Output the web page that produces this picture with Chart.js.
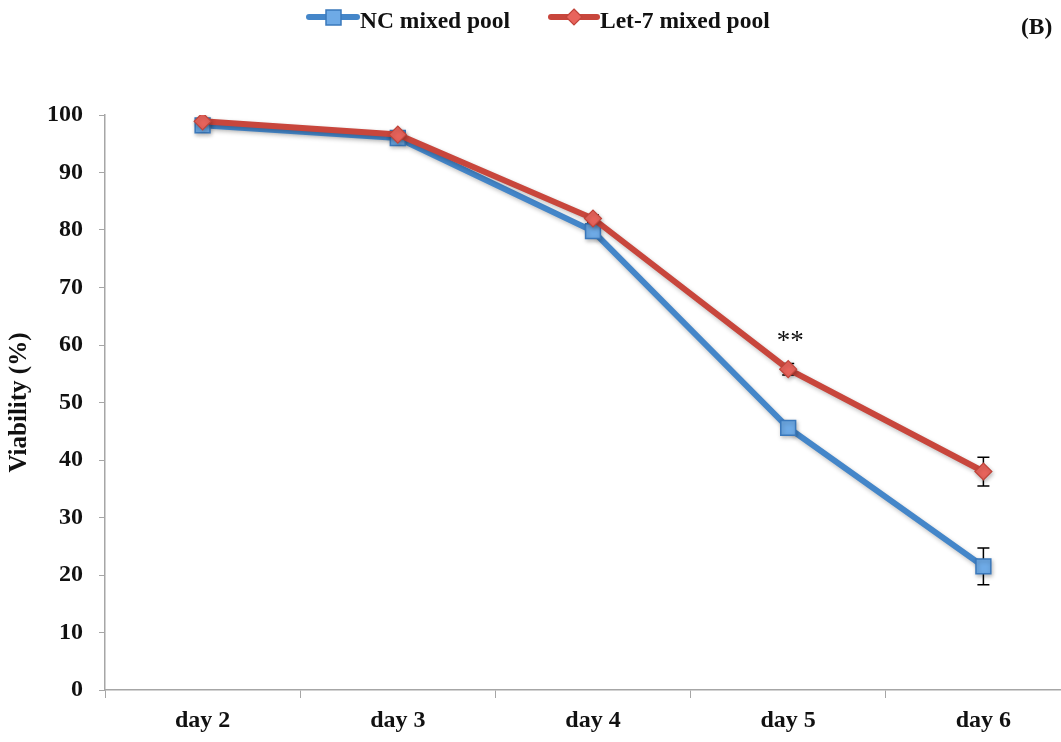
<!DOCTYPE html>
<html>
<head>
<meta charset="utf-8">
<script src="https://cdn.jsdelivr.net/npm/chart.js@4/dist/chart.umd.min.js"></script>
<style>
  html, body { margin: 0; padding: 0; background: #fff; overflow: hidden; }
  #wrap { position: relative; width: 1093px; height: 742px; }
</style>
</head>
<body>
<div id="wrap"><canvas id="chart"></canvas></div>
<script>
'use strict';

// ── Data ────────────────────────────────────────────────────────
const DAYS = ['day 2', 'day 3', 'day 4', 'day 5', 'day 6'];
const NC_VALUES = [98.2, 96.0, 79.8, 45.6, 21.5];
const NC_ERRORS = [0.5, 0.5, 0.8, 0.8, 3.2];
const LET7_VALUES = [98.9, 96.6, 82.0, 55.8, 38.0];
const LET7_ERRORS = [0.4, 0.4, 0.6, 1.0, 2.5];
const Y_TICKS = [0, 10, 20, 30, 40, 50, 60, 70, 80, 90, 100];
const SIGNIF_INDEX = 3;
const SIGNIF_LABEL = '**';

// ── Theme ───────────────────────────────────────────────────────
const COLORS = {
  blueLine:  '#4486c9',
  blueFill:  '#6eaae6',
  blueEdge:  '#3a78bb',
  redLine:   '#c8463c',
  redFill:   '#e8645c',
  redEdge:   '#c0443a',
  axis:      '#a6a6a6',
  text:      '#111111'
};
const SERIF = '"Liberation Serif", "DejaVu Serif", serif';

// ── Plugins ─────────────────────────────────────────────────────
const shadowPlugin = {
  id: 'shadow',
  beforeDatasetDraw(chart) {
    const ctx = chart.ctx;
    ctx.save();
    ctx.shadowColor = 'rgba(0,0,0,0.25)';
    ctx.shadowBlur = 4;
    ctx.shadowOffsetX = 1;
    ctx.shadowOffsetY = 2;
  },
  afterDatasetDraw(chart) {
    chart.ctx.restore();
  }
};

const errorBarPlugin = {
  id: 'errorBars',
  beforeDatasetsDraw(chart) {
    const ctx = chart.ctx;
    const x = chart.scales.x;
    const y = chart.scales.y;
    const sets = [[NC_VALUES, NC_ERRORS], [LET7_VALUES, LET7_ERRORS]];
    ctx.save();
    ctx.strokeStyle = '#000';
    ctx.lineWidth = 1.5;
    sets.forEach(([vals, errs]) => {
      vals.forEach((v, i) => {
        const px = x.getPixelForValue(i);
        const top = y.getPixelForValue(v + errs[i]);
        const bot = y.getPixelForValue(v - errs[i]);
        ctx.beginPath();
        ctx.moveTo(px, top); ctx.lineTo(px, bot);
        ctx.moveTo(px - 6, top); ctx.lineTo(px + 6, top);
        ctx.moveTo(px - 6, bot); ctx.lineTo(px + 6, bot);
        ctx.stroke();
      });
    });
    ctx.restore();
  },
  afterDatasetsDraw(chart) {
    const ctx = chart.ctx;
    const px = chart.scales.x.getPixelForValue(SIGNIF_INDEX);
    const py = chart.scales.y.getPixelForValue(LET7_VALUES[SIGNIF_INDEX] + 4.8);
    ctx.save();
    ctx.fillStyle = COLORS.text;
    ctx.font = '27px ' + SERIF;
    ctx.textAlign = 'center';
    ctx.textBaseline = 'middle';
    ctx.fillText(SIGNIF_LABEL, px + 2, py);
    ctx.restore();
  }
};

const legendPlugin = {
  id: 'topLegend',
  afterDraw(chart) {
    const ctx = chart.ctx;
    ctx.save();
    ctx.font = 'bold 23.5px ' + SERIF;
    ctx.textBaseline = 'middle';
    ctx.fillStyle = COLORS.text;

    // NC mixed pool
    ctx.strokeStyle = COLORS.blueLine;
    ctx.lineWidth = 6;
    ctx.lineCap = 'round';
    ctx.beginPath(); ctx.moveTo(309, 17); ctx.lineTo(357, 17); ctx.stroke();
    ctx.fillStyle = COLORS.blueFill;
    ctx.strokeStyle = COLORS.blueEdge;
    ctx.lineWidth = 1.5;
    ctx.fillRect(326, 10, 15, 15);
    ctx.strokeRect(326, 10, 15, 15);
    ctx.fillStyle = COLORS.text;
    ctx.fillText('NC mixed pool', 360, 22);

    // Let-7 mixed pool
    ctx.strokeStyle = COLORS.redLine;
    ctx.lineWidth = 6;
    ctx.beginPath(); ctx.moveTo(551, 17); ctx.lineTo(597, 17); ctx.stroke();
    ctx.fillStyle = COLORS.redFill;
    ctx.strokeStyle = COLORS.redEdge;
    ctx.lineWidth = 1.2;
    ctx.beginPath();
    ctx.moveTo(574, 9); ctx.lineTo(582, 17); ctx.lineTo(574, 25); ctx.lineTo(566, 17);
    ctx.closePath(); ctx.fill(); ctx.stroke();
    ctx.fillStyle = COLORS.text;
    ctx.fillText('Let-7 mixed pool', 600, 22);

    // panel label
    ctx.fillText('(B)', 1021, 28);
    ctx.restore();
  }
};

// ── Chart ───────────────────────────────────────────────────────
new Chart(document.getElementById('chart').getContext('2d'), {
  type: 'line',
  data: {
    labels: DAYS,
    datasets: [
      {
        label: 'NC mixed pool',
        data: NC_VALUES,
        borderColor: COLORS.blueLine,
        borderWidth: 6,
        pointStyle: 'rect',
        pointRadius: 10.5,
        pointBackgroundColor: COLORS.blueFill,
        pointBorderColor: COLORS.blueEdge,
        pointBorderWidth: 1.5,
        tension: 0,
        order: 1
      },
      {
        label: 'Let-7 mixed pool',
        data: LET7_VALUES,
        borderColor: COLORS.redLine,
        borderWidth: 6,
        pointStyle: 'rectRot',
        pointRadius: 8.5,
        pointBackgroundColor: COLORS.redFill,
        pointBorderColor: COLORS.redEdge,
        pointBorderWidth: 1.2,
        tension: 0,
        order: 0
      }
    ]
  },
  options: {
    responsive: true,
    maintainAspectRatio: false,
    animation: false,
    layout: { padding: { top: 115, right: 5, left: 0, bottom: 0 } },
    plugins: {
      legend: { display: false },
      tooltip: { enabled: false }
    },
    scales: {
      x: {
        offset: true,
        afterFit(scale) { scale.height = 52; },
        grid: {
          offset: true,
          drawOnChartArea: false,
          drawTicks: true,
          tickLength: 8,
          color: COLORS.axis
        },
        border: { display: true, color: COLORS.axis, width: 1.5 },
        ticks: {
          color: COLORS.text,
          padding: 8,
          maxRotation: 0,
          font: { family: SERIF, size: 24, weight: 'bold' }
        }
      },
      y: {
        min: 0,
        max: 100,
        afterFit(scale) { scale.width = 105; },
        afterBuildTicks(scale) { scale.ticks = Y_TICKS.map(v => ({ value: v })); },
        grid: {
          drawOnChartArea: false,
          drawTicks: true,
          tickLength: 6,
          color: COLORS.axis
        },
        border: { display: true, color: COLORS.axis, width: 1.5 },
        ticks: {
          color: COLORS.text,
          padding: 16,
          font: { family: SERIF, size: 24, weight: 'bold' }
        },
        title: {
          display: true,
          text: 'Viability (%)',
          color: COLORS.text,
          padding: { top: 5, bottom: 0 },
          font: { family: SERIF, size: 25, weight: 'bold' }
        }
      }
    }
  },
  plugins: [shadowPlugin, errorBarPlugin, legendPlugin]
});
</script>
</body>
</html>
